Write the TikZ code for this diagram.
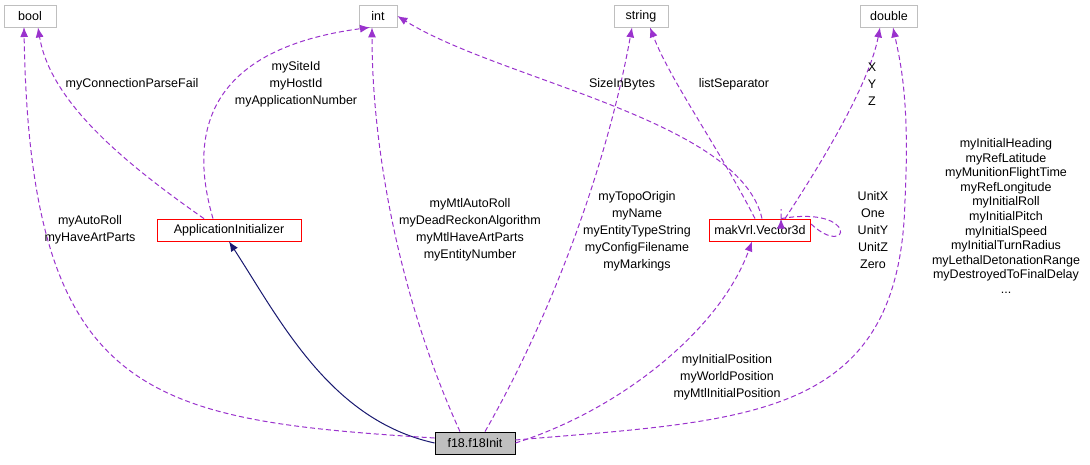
\documentclass[tikz,border=0pt]{standalone}
\usepackage{fontspec}
\setmainfont{Liberation Sans}
\usetikzlibrary{arrows.meta}
\definecolor{edgepurple}{rgb}{0.604, 0.196, 0.804}
\definecolor{edgenavy}{rgb}{0.098, 0.098, 0.439}
\definecolor{boxgray}{rgb}{0.749, 0.749, 0.749}
\tikzset{
  cls/.style={draw=boxgray, line width=0.8pt, fill=white, minimum height=22pt, inner xsep=5pt, font=\fontsize{12.5}{13}\selectfont},
  usage/.style={draw=edgepurple, line width=1pt, dash pattern=on 5pt off 3pt, -{Latex[length=10pt,width=8pt]}},
  inherit/.style={draw=edgenavy, line width=1pt, -{Latex[length=10pt,width=8pt]}},
  lbl/.style={align=center, font=\fontsize{12.5}{17}\selectfont}
}
\begin{document}
\begin{tikzpicture}[x=1pt, y=-1pt]
        \useasboundingbox (0, 0) rectangle (1090, 464);
        \node[cls, minimum width=52pt] (bool) at (30, 16) {bool};
        \node[cls, minimum width=38pt] (int) at (378, 16) {int};
        \node[cls, minimum width=54pt] (string) at (641, 16) {string};
        \node[cls, minimum width=57pt] (double) at (889, 16) {double};
        \node[cls, draw=red, minimum width=144pt] (appinit) at (229, 230) {ApplicationInitializer};
        \node[cls, draw=red, minimum width=93pt] (vector) at (760, 230) {makVrl.Vector3d};
        \node[cls, draw=black, fill=boxgray, minimum width=80pt] (f18) at (475, 443) {f18.f18Init};
        \coordinate (boolin) at (24, 27);
        % inheritance
        \draw[inherit] (f18.west) .. controls (330, 420) and (280, 320) .. (appinit.south);
        % member usage
        \draw[usage] ([yshift=5pt]f18.west) .. controls (150, 420) and (30, 400) .. (boolin);
        \draw[usage] ([xshift=-25pt]appinit.north) .. controls (120, 160) and (50, 100) .. ([xshift=8pt]bool.south);
        \draw[usage] ([xshift=-16pt]appinit.north) .. controls (190, 140) and (200, 50) .. ([xshift=-8pt]int.south);
        \draw[usage] ([xshift=-15pt]f18.north) .. controls (400, 300) and (372, 150) .. ([xshift=-6pt]int.south);
        \draw[usage] ([xshift=2pt]vector.north) .. controls (740, 120) and (500, 80) .. (int.east);
        \draw[usage] ([xshift=10pt]f18.north) .. controls (560, 300) and (610, 150) .. ([xshift=-9pt]string.south);
        \draw[usage] ([xshift=-5pt]vector.north) .. controls (720, 150) and (670, 80) .. ([xshift=9pt]string.south);
        \draw[usage] ([xshift=25pt]vector.north) .. controls (830, 150) and (870, 80) .. ([xshift=-9pt]double.south);
        \draw[usage] ([yshift=6pt]vector.east) .. controls (850, 260) and (860, 205) .. ([xshift=-30pt]vector.north east) ++(0, 0) -- ([xshift=-30pt, yshift=0pt]vector.north east);
        \draw[usage] (f18.east) .. controls (620, 410) and (720, 330) .. ([xshift=-8pt]vector.south);
        \draw[usage] ([yshift=3pt]f18.east) .. controls (750, 420) and (900, 420) .. (905, 200) .. controls (910, 100) and (900, 60) .. ([xshift=4pt]double.south);
        % labels
        \node[lbl] (l1) at (90, 230) {myAutoRoll\\myHaveArtParts};
        \node[lbl] (l2) at (132, 84) {myConnectionParseFail};
        \node[lbl] (l3) at (296, 84) {mySiteId\\myHostId\\myApplicationNumber};
        \node[lbl] (l4) at (470, 230) {myMtlAutoRoll\\myDeadReckonAlgorithm\\myMtlHaveArtParts\\myEntityNumber};
        \node[lbl] (l5) at (622, 84) {SizeInBytes};
        \node[lbl] (l6) at (734, 84) {listSeparator};
        \node[lbl] (l7) at (637, 231) {myTopoOrigin\\myName\\myEntityTypeString\\myConfigFilename\\myMarkings};
        \node[lbl] (l8) at (872, 84) {X\\Y\\Z};
        \node[lbl] (l9) at (873, 230) {UnitX\\One\\UnitY\\UnitZ\\Zero};
        \node[lbl] (l10) at (727, 377) {myInitialPosition\\myWorldPosition\\myMtlInitialPosition};
        \node[lbl, font=\fontsize{12.5}{14.6}\selectfont] (l11) at (1006, 216) {myInitialHeading\\myRefLatitude\\myMunitionFlightTime\\myRefLongitude\\myInitialRoll\\myInitialPitch\\myInitialSpeed\\myInitialTurnRadius\\myLethalDetonationRange\\myDestroyedToFinalDelay\\...};
      \end{tikzpicture}
\end{document}
